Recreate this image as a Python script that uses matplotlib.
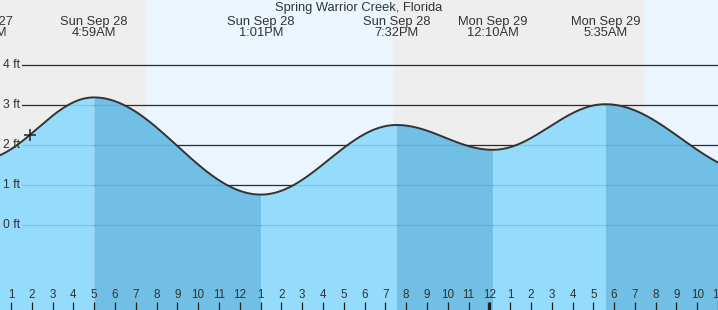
import numpy as np
import matplotlib
matplotlib.use("Agg")
import matplotlib.pyplot as plt

plt.rcParams['font.family'] = ['Liberation Sans', 'DejaVu Sans']

# ---- data -------------------------------------------------------------
title = "Spring Warrior Creek, Florida"
# tide extremes: hours since midnight Sun Sep 28, heights in ft
ext_hours = [-0.44, 4.983, 13.017, 19.533, 24.167, 29.583, 36.9]
ext_heights = [1.64, 3.19, 0.76, 2.50, 1.88, 3.02, 1.29]
ext_labels = ["Sat Sep 27\n11:34PM", "Sun Sep 28\n4:59AM", "Sun Sep 28\n1:01PM",
              "Sun Sep 28\n7:32PM", "Mon Sep 29\n12:10AM", "Mon Sep 29\n5:35AM", ""]
# sunrise / sunset (hours)
sun_events = [7.44, 19.37, 31.44]
ft_ticks = [0, 1, 2, 3, 4]
ft_labels = ["0 ft", "1 ft", "2 ft", "3 ft", "4 ft"]
hour_ticks = list(range(1, 36))
now_hour = 1.91

# ---- curve between extremes (cosine tide model) ----------------------
def tide(t):
    t = np.asarray(t, dtype=float)
    out = np.zeros_like(t)
    for i in range(len(ext_hours) - 1):
        t0, t1 = ext_hours[i], ext_hours[i + 1]
        h0, h1 = ext_heights[i], ext_heights[i + 1]
        m = (t >= t0) & (t <= t1)
        f = (1 - np.cos(np.pi * (t[m] - t0) / (t1 - t0))) / 2
        out[m] = h0 + (h1 - h0) * f
    return out

X0, X1 = 0.471, 34.996
Y0, Y1 = -2.125, 5.625

fig = plt.figure(figsize=(7.18, 3.10), dpi=100)
ax = fig.add_axes([0, 0, 1, 1])
ax.set_xlim(X0, X1)
ax.set_ylim(Y0, Y1)
ax.axis('off')

night = '#eeeeee'
day = '#ebf5fe'
bounds = [X0 - 1] + sun_events + [X1 + 1]
for i in range(len(bounds) - 1):
    ax.axvspan(bounds[i], bounds[i + 1], color=night if i % 2 == 0 else day,
               lw=0, zorder=0)

# grid lines
gx0 = 1.53
for v, lab in zip(ft_ticks, ft_labels):
    ax.plot([gx0, X1 + 1], [v, v], color='#333333', lw=0.9, zorder=1)
    ax.plot([gx0, X1 + 1], [v, v], color='#000000', lw=0.9, alpha=0.1, zorder=3)
    ax.text(1.45, v, lab, ha='right', va='center', fontsize=8.8, color='#333333')

# filled tide, alternating shades between extremes
light = '#94dbfc'
dark = '#72bfe5'
for i in range(len(ext_hours) - 1):
    t0, t1 = ext_hours[i], ext_hours[i + 1]
    tt = np.linspace(t0, t1, 200)
    col = dark if ext_heights[i] > ext_heights[i + 1] else light
    ax.fill_between(tt, Y0, tide(tt), color=col, lw=0, zorder=2)

tt = np.linspace(ext_hours[0], ext_hours[-1], 2000)
ax.plot(tt, tide(tt), color='#333333', lw=1.4, zorder=4)

ax.plot([now_hour], tide([now_hour]), marker='+', ms=9, mew=1.1,
        color='#222222', zorder=5)

# extreme labels
for t, lab in zip(ext_hours, ext_labels):
    if lab:
        ax.text(t, 4.93, lab, ha='center', va='center', fontsize=9.3,
                color='#333333', linespacing=0.92)

fig.text(0.5, 1 - 7.5 / 310, title, ha='center', va='center', fontsize=9.3,
         color='#333333')

# hour axis
for h in hour_ticks:
    lab = str((h - 1) % 12 + 1)
    ax.text(h, Y0 + 14.5 / 40, lab, ha='center', va='center', fontsize=8.4,
            color='#333333')
    midnight = (h % 24 == 0)
    ax.plot([h, h], [Y0, Y0 + 8.5 / 40], color='#222222',
            lw=2.4 if midnight else 0.9, zorder=6, solid_capstyle='butt')

fig.savefig('out.png', dpi=100)
